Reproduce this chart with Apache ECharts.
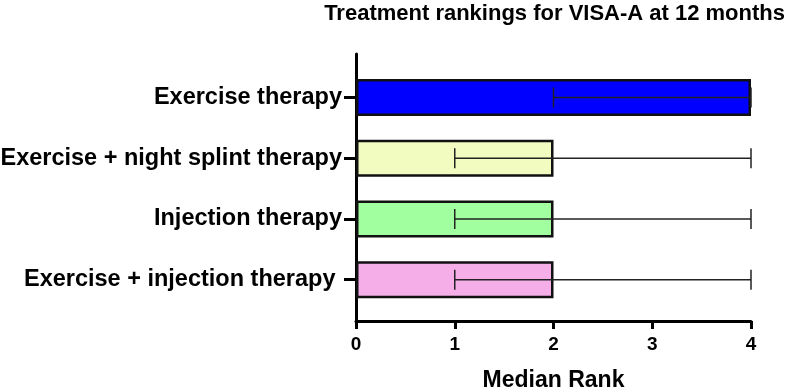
<!DOCTYPE html>
<html>
<head>
<meta charset="utf-8">
<script src="https://cdn.jsdelivr.net/npm/echarts@6/dist/echarts.min.js"></script>
<style>
  html, body { margin: 0; padding: 0; background: #fff; }
  #chart { width: 796px; height: 390px; }
</style>
</head>
<body>
<div id="chart"></div>
<script>
// treatments, top to bottom
const treatments = [
    'Exercise therapy',
    'Exercise + night splint therapy',
    'Injection therapy',
    'Exercise + injection therapy '
];
const medianRank = [4, 2, 2, 2];
const rankLow = [2, 1, 1, 1];
const rankHigh = [4, 4, 4, 4];
const barColors = ['#0000ff', '#f2fcc0', '#a2ffa0', '#f5aee8'];
const xTicks = [0, 1, 2, 3, 4];

const FONT = 'Liberation Sans, Arial, sans-serif';

const chart = echarts.init(document.getElementById('chart'));

// error bar: line from low to high, caps at both ends
function renderErr(params, api) {
    const y = api.value(2);
    const p1 = api.coord([api.value(0), y]);
    const p2 = api.coord([api.value(1), y]);
    const h = 10;
    const st = { stroke: '#222', lineWidth: 1.5 };
    return {
        type: 'group',
        children: [
            { type: 'line', shape: { x1: p1[0], y1: p1[1], x2: p2[0], y2: p2[1] }, style: st },
            { type: 'line', shape: { x1: p1[0], y1: p1[1] - h, x2: p1[0], y2: p1[1] + h }, style: st },
            { type: 'line', shape: { x1: p2[0], y1: p2[1] - h, x2: p2[0], y2: p2[1] + h }, style: st }
        ]
    };
}

chart.setOption({
    animation: false,
    title: {
        text: 'Treatment rankings for VISA-A at 12 months',
        right: 6,
        top: -2,
        textStyle: { fontFamily: FONT, fontWeight: 'bold', fontSize: 22, color: '#000' }
    },
    grid: [
        { left: 356, right: 45, top: 67, bottom: 80, outerBoundsMode: 'none', containLabel: false },
        { left: 356, right: 45, top: 54, bottom: 69, outerBoundsMode: 'none', containLabel: false }
    ],
    xAxis: [{
        gridIndex: 0,
        type: 'value',
        min: 0,
        max: 4,
        interval: 1,
        offset: 11,
        name: 'Median Rank',
        nameLocation: 'middle',
        nameGap: 48,
        nameTextStyle: { fontFamily: FONT, fontWeight: 'bold', fontSize: 23, color: '#000' },
        axisLine: { show: true, lineStyle: { color: '#000', width: 3 } },
        axisTick: { show: true, length: 8, lineStyle: { color: '#000', width: 3 } },
        axisLabel: {
            margin: 14,
            fontFamily: FONT, fontWeight: 'bold', fontSize: 19, color: '#000',
            formatter: v => xTicks.includes(v) ? String(v) : ''
        },
        splitLine: { show: false }
    }, {
        gridIndex: 1,
        type: 'value',
        show: false
    }],
    yAxis: [{
        gridIndex: 0,
        type: 'category',
        data: treatments,
        inverse: true,
        axisLine: { show: false },
        axisTick: { show: true, alignWithLabel: true, length: 12, lineStyle: { color: '#000', width: 3 } },
        axisLabel: {
            margin: 14,
            fontFamily: FONT, fontWeight: 'bold', fontSize: 23.5, color: '#000'
        },
        splitLine: { show: false }
    }, {
        gridIndex: 1,
        type: 'value',
        axisLine: { show: true, lineStyle: { color: '#000', width: 3 } },
        axisTick: { show: false },
        axisLabel: { show: false },
        splitLine: { show: false }
    }],
    series: [{
        type: 'bar',
        xAxisIndex: 0,
        yAxisIndex: 0,
        barWidth: 37,
        data: medianRank.map((v, i) => ({
            value: v,
            itemStyle: { color: barColors[i], borderColor: '#111', borderWidth: 2.5 }
        })),
        z: 2
    }, {
        type: 'custom',
        xAxisIndex: 0,
        yAxisIndex: 0,
        renderItem: renderErr,
        encode: { x: [0, 1], y: 2 },
        data: rankLow.map((lo, i) => [lo, rankHigh[i], i]),
        z: 3
    }]
});
</script>
</body>
</html>
